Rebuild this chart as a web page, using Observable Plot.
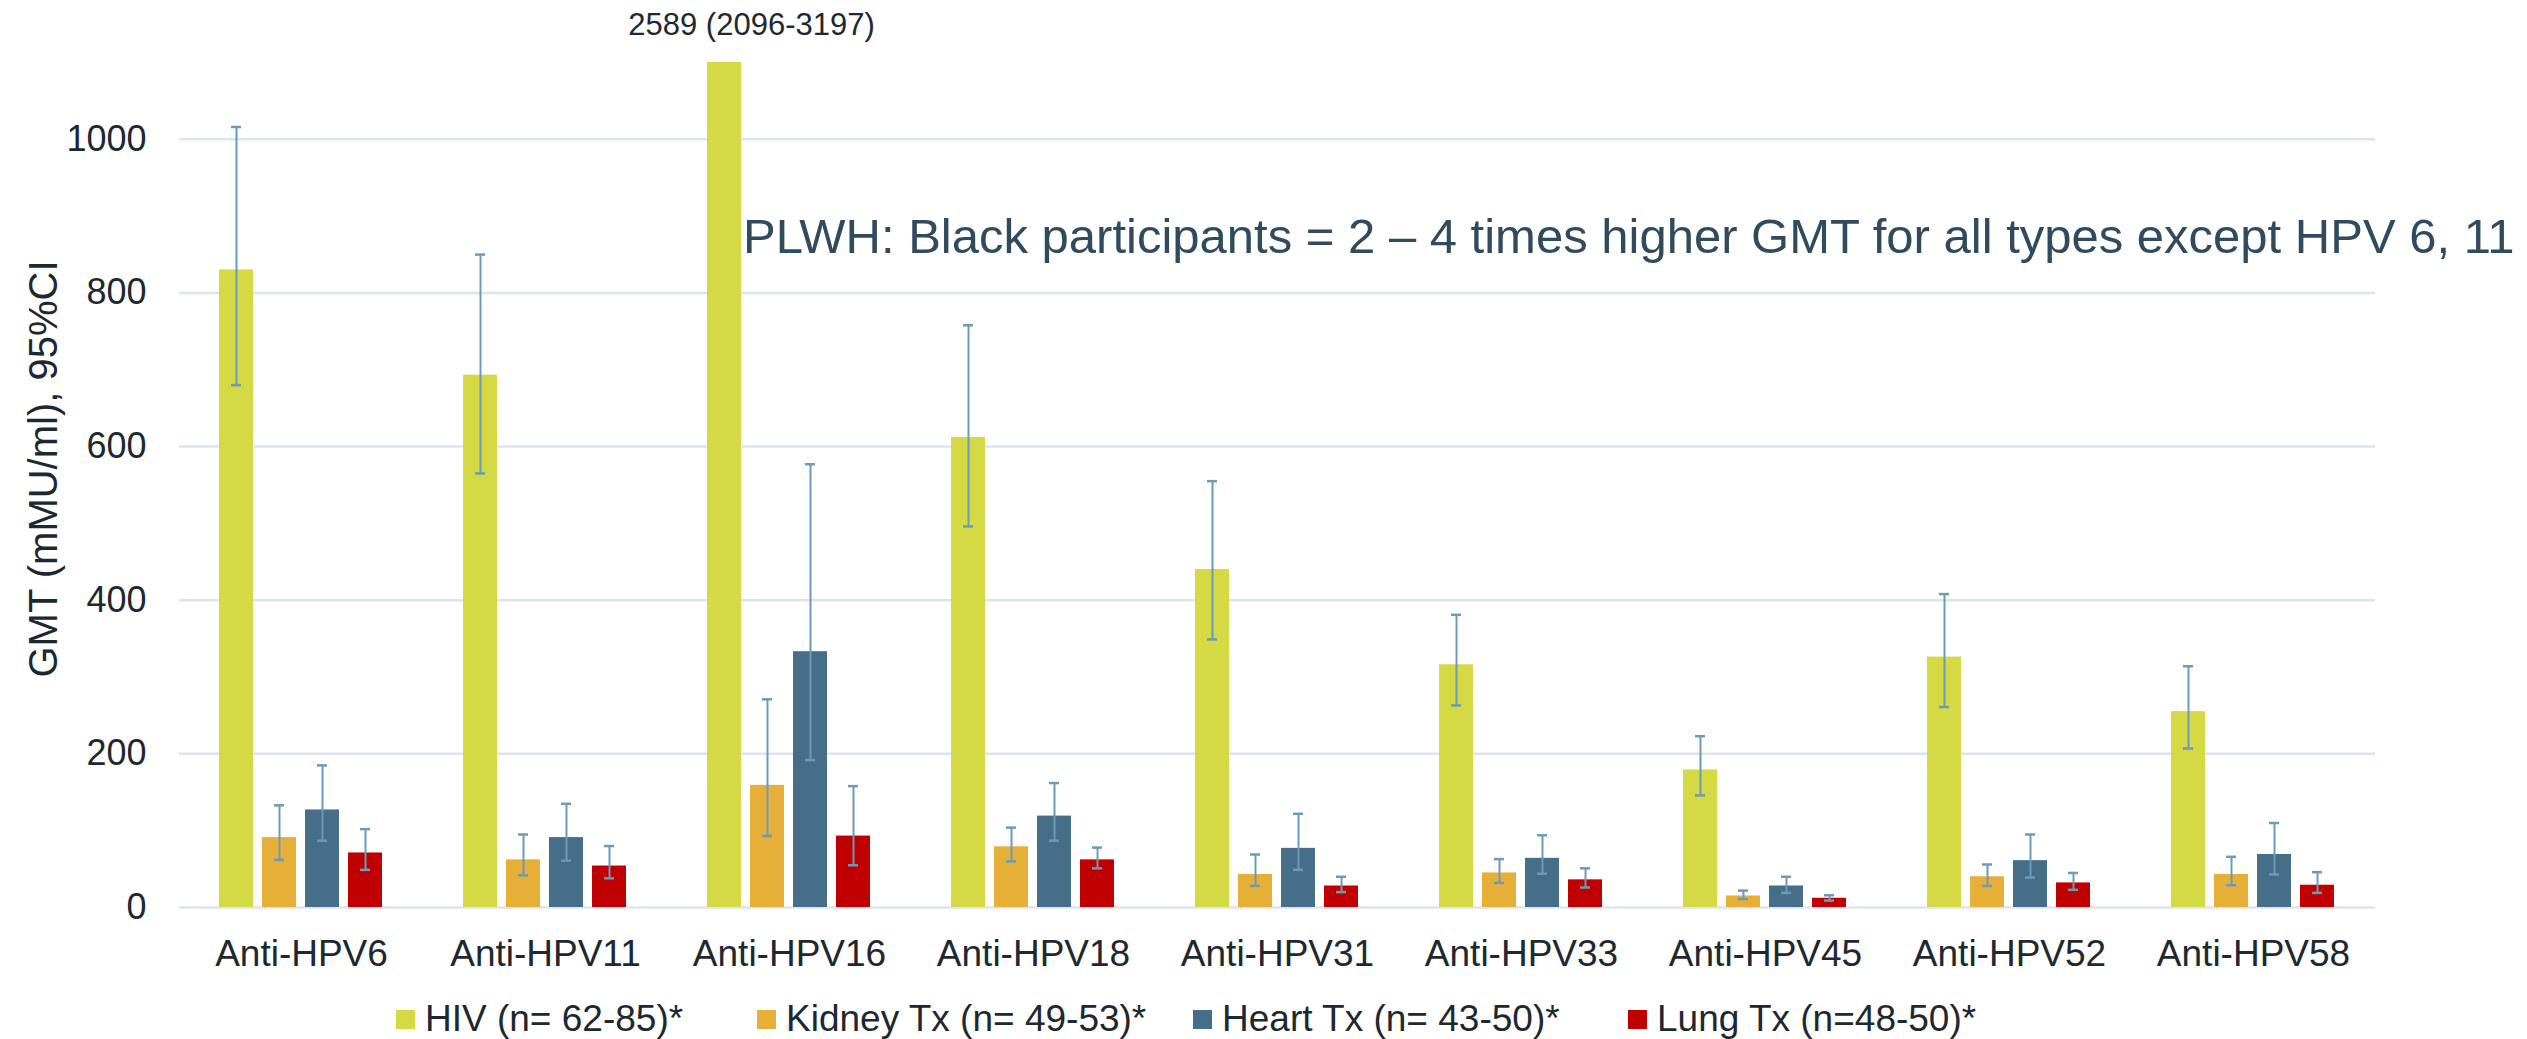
<!DOCTYPE html>
<html>
<head>
<meta charset="utf-8">
<script src="https://cdn.jsdelivr.net/npm/d3@7"></script>
<script src="https://cdn.jsdelivr.net/npm/@observablehq/plot@0.6"></script>
<style>
  html, body { margin: 0; padding: 0; background: #fff; }
  #wrap { position: relative; width: 2527px; height: 1039px; overflow: hidden; font-family: "Liberation Sans", Arial, sans-serif; }
  #chart { position: absolute; left: 0; top: 0; }
  #ytitle { position: absolute; left: 43px; top: 469px; transform: translate(-50%, -50%) rotate(-90deg); white-space: nowrap; font-size: 40px; line-height: 1; color: #1d2830; }
  #note { position: absolute; left: 743px; top: 212px; font-size: 49px; line-height: 49px; color: #2f4b5d; white-space: nowrap; }
  #legend { position: absolute; left: 0; top: 999px; width: 2527px; height: 40px; font-size: 37px; line-height: 40px; color: #1d2830; white-space: nowrap; }
  .item { position: absolute; top: 0; display: flex; align-items: center; gap: 10px; }
  .sw { width: 19px; height: 19px; display: inline-block; }
</style>
</head>
<body>
<div id="wrap">
  <div id="chart"></div>
  <div id="ytitle">GMT (mMU/ml), 95%CI</div>
  <div id="note">PLWH: Black participants = 2 – 4 times higher GMT for all types except HPV 6, 11</div>
  <div id="legend"></div>
</div>
<script>
const categories = ["Anti-HPV6", "Anti-HPV11", "Anti-HPV16", "Anti-HPV18", "Anti-HPV31", "Anti-HPV33", "Anti-HPV45", "Anti-HPV52", "Anti-HPV58"];
const seriesNames = ["HIV (n= 62-85)*", "Kidney Tx (n= 49-53)*", "Heart Tx (n= 43-50)*", "Lung Tx (n=48-50)*"];
const seriesColors = ["#d4d944", "#e6b038", "#476e88", "#c00000"];

const hivGMT    = [830, 693, 2589, 612, 440, 316, 179, 326, 255];
const hivLow    = [680, 565, 2096, 496, 349, 263, 146, 261, 207];
const hivHigh   = [1016, 850, 3197, 758, 555, 381, 223, 408, 314];

const kidneyGMT  = [91, 62, 159, 79, 43, 45, 15, 40, 43];
const kidneyLow  = [62, 42, 93, 60, 28, 32, 11, 28, 29];
const kidneyHigh = [133, 95, 271, 104, 69, 63, 22, 56, 66];

const heartGMT  = [127, 91, 333, 119, 77, 64, 28, 61, 69];
const heartLow  = [87, 61, 192, 87, 49, 44, 19, 39, 43];
const heartHigh = [185, 135, 577, 162, 122, 94, 40, 95, 110];

const lungGMT   = [71, 54, 93, 62, 28, 36, 12, 32, 29];
const lungLow   = [49, 38, 55, 51, 20, 26, 9, 23, 19];
const lungHigh  = [102, 80, 158, 78, 40, 51, 16, 45, 46];

const yTicks = [0, 200, 400, 600, 800, 1000];
const offscaleLabel = "2589 (2096-3197)";

const seriesData = [
  [hivGMT, hivLow, hivHigh],
  [kidneyGMT, kidneyLow, kidneyHigh],
  [heartGMT, heartLow, heartHigh],
  [lungGMT, lungLow, lungHigh]
];
const rows = [];
categories.forEach((c, i) => {
  seriesNames.forEach((s, j) => {
    rows.push({category: c, series: s, gmt: seriesData[j][0][i], lo: seriesData[j][1][i], hi: seriesData[j][2][i]});
  });
});
const labelRows = [{category: "Anti-HPV16", series: seriesNames[0], y: 1100, text: offscaleLabel}];

const errColor = "#6b9bb8";

const chart = Plot.plot({
  width: 2527,
  height: 990,
  marginLeft: 177,
  marginRight: 150,
  marginTop: 62,
  marginBottom: 83,
  style: {fontFamily: "'Liberation Sans', Arial, sans-serif", color: "#1d2830", background: "transparent"},
  fx: {domain: categories, padding: 0},
  x: {domain: seriesNames, paddingInner: 0.2, paddingOuter: 0.873},
  y: {domain: [0, 1100]},
  color: {domain: seriesNames, range: seriesColors},
  marks: [
    Plot.gridY(yTicks, {stroke: "#dce5ed", strokeOpacity: 1, strokeWidth: 2.5}),
    Plot.axisY(yTicks, {tickSize: 0, tickPadding: 33, fontSize: 36, label: null, tickFormat: d => String(d)}),
    Plot.axisFx({anchor: "bottom", tickSize: 0, tickPadding: 32, fontSize: 37, label: null}),
    Plot.axisX({ticks: [], label: null, tickSize: 0}),
    Plot.barY(rows, {fx: "category", x: "series", y: "gmt", fill: "series", clip: true}),
    Plot.ruleX(rows, {fx: "category", x: "series", y1: "lo", y2: "hi", stroke: errColor, strokeWidth: 2, clip: true}),
    Plot.tickY(rows, {fx: "category", x: "series", y: "lo", stroke: errColor, strokeWidth: 2.5, inset: 12, clip: true}),
    Plot.tickY(rows, {fx: "category", x: "series", y: "hi", stroke: errColor, strokeWidth: 2.5, inset: 12, clip: true}),
    Plot.text(labelRows, {fx: "category", x: "series", y: "y", text: "text", dx: 27, dy: -28, lineAnchor: "bottom", fontSize: 31, fill: "#1d2830"})
  ]
});
document.getElementById("chart").appendChild(chart);

const legendLeft = [396, 757, 1193, 1628];
const legend = document.getElementById("legend");
seriesNames.forEach((s, i) => {
  const it = document.createElement("div");
  it.className = "item";
  it.style.left = legendLeft[i] + "px";
  const sw = document.createElement("span");
  sw.className = "sw";
  sw.style.background = seriesColors[i];
  const tx = document.createElement("span");
  tx.textContent = s;
  it.appendChild(sw);
  it.appendChild(tx);
  legend.appendChild(it);
});
</script>
</body>
</html>
